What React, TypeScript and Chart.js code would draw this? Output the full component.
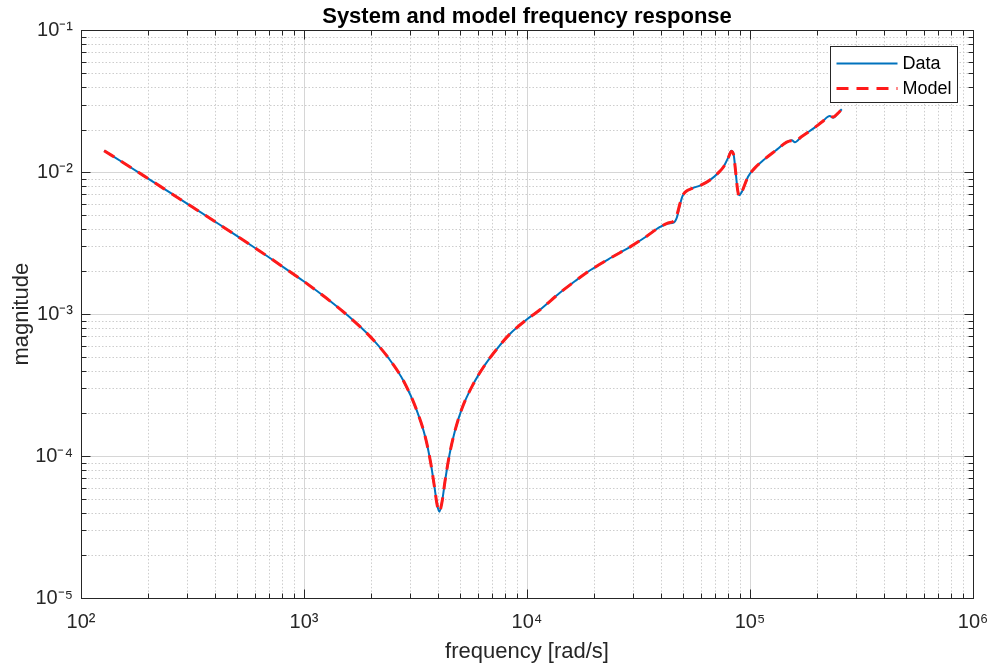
import React, { useEffect, useRef } from 'react';
import { Chart, registerables } from 'chart.js';

Chart.register(...registerables);

// ---- data ----
const frequency = [
  127, 160, 200, 250, 320, 400, 500, 630, 800, 1000, 1250, 1600, 2000, 2400, 2800, 3200,
  3500, 3700, 3850, 3950, 4044, 4150, 4300, 4500, 4750, 5100, 5700, 6500, 7400, 8400,
  10000, 11400, 14000, 16500, 19200, 24000, 29000, 34000, 39500, 43000, 45500, 47000,
  48500, 49800, 51500, 55000, 60000, 66000, 72000, 76000, 80000, 82500, 84500, 86000,
  88000, 89500, 92000, 98000, 105000, 115000, 130000, 146000, 154000, 159000, 170000,
  192000, 210000, 228000, 236000, 247000, 258000,
];

const dataMagnitude = [
  0.0142, 0.0113, 0.00903, 0.00721, 0.00562, 0.00448, 0.00356, 0.0028, 0.00217, 0.0017,
  0.00131, 0.000954, 0.000684, 0.000488, 0.000337, 0.000211, 0.000136, 0.0000895, 0.00006,
  0.0000457, 0.0000406, 0.0000467, 0.0000683, 0.000104, 0.00015, 0.000215, 0.000315, 0.000443,
  0.00058, 0.000728, 0.00092, 0.00107, 0.00141, 0.00172, 0.00204, 0.00252, 0.00298, 0.0035,
  0.00412, 0.00436, 0.00442, 0.0048, 0.0059, 0.0068, 0.0073, 0.0077, 0.0081, 0.0088, 0.0099,
  0.0109, 0.0128, 0.0142, 0.0133, 0.0105, 0.0075, 0.0069, 0.0073, 0.0093, 0.0107, 0.0122,
  0.0142, 0.0163, 0.0168, 0.0163, 0.0178, 0.0203, 0.0226, 0.0249, 0.0242, 0.0259, 0.0278,
];

const modelMagnitude = [
  0.0142, 0.0113, 0.00903, 0.00721, 0.00562, 0.00448, 0.00356, 0.0028, 0.00217, 0.0017,
  0.00131, 0.000954, 0.000684, 0.000488, 0.000337, 0.000211, 0.000136, 0.0000895, 0.00006,
  0.0000457, 0.0000406, 0.0000467, 0.0000683, 0.000104, 0.00015, 0.000215, 0.000315, 0.000443,
  0.00058, 0.000728, 0.00092, 0.00107, 0.00141, 0.00172, 0.00204, 0.00252, 0.00298, 0.0035,
  0.00412, 0.0044, 0.00455, 0.005, 0.006, 0.0068, 0.0073, 0.0077, 0.0081, 0.0088, 0.0099,
  0.0109, 0.0127, 0.014, 0.0132, 0.0105, 0.0075, 0.0068, 0.0073, 0.0093, 0.0107, 0.0122,
  0.0142, 0.0163, 0.0167, 0.0165, 0.0178, 0.0203, 0.0226, 0.0248, 0.0245, 0.0259, 0.0278,
];

const xTickValues = [100, 1000, 10000, 100000, 1000000];
const xTickLabels = ['10\u00B2', '10\u00B3', '10\u2074', '10\u2075', '10\u2076'];
const yTickValues = [0.00001, 0.0001, 0.001, 0.01, 0.1];
const yTickLabels = ['10\u207B\u2075', '10\u207B\u2074', '10\u207B\u00B3', '10\u207B\u00B2', '10\u207B\u00B9'];

const seriesNames = ['Data', 'Model'];
const titleText = 'System and model frequency response';
const xLabel = 'frequency [rad/s]';
const yLabel = 'magnitude';

const FONT = "'Liberation Sans', Arial, Helvetica, sans-serif";
const AXIS_COLOR = '#262626';
const BLUE = '#0072BD';
const RED = '#FF1A1A';
const DASH = [12, 8];

function decadeTicks(lo: number, hi: number): number[] {
  const out: number[] = [];
  const e0 = Math.round(Math.log10(lo));
  const e1 = Math.round(Math.log10(hi));
  for (let e = e0; e < e1; e++) {
    for (let k = 1; k <= 9; k++) out.push(k * Math.pow(10, e));
  }
  out.push(Math.pow(10, e1));
  return out;
}

function isDecade(v: number): boolean {
  const l = Math.log10(v);
  return Math.abs(l - Math.round(l)) < 1e-9;
}

function labelFor(v: number, values: number[], labels: string[]): string {
  for (let i = 0; i < values.length; i++) {
    if (Math.abs(Math.log10(v) - Math.log10(values[i])) < 1e-9) return labels[i];
  }
  return '';
}

const framePlugin = {
  id: 'matlabFrame',
  beforeDatasetsDraw(chart: any) {
    const { ctx, chartArea, scales } = chart;
    const { left, right, top, bottom } = chartArea;
    ctx.save();
    ctx.lineWidth = 1;
    const xs = decadeTicks(xTickValues[0], xTickValues[xTickValues.length - 1]);
    const ys = decadeTicks(yTickValues[0], yTickValues[yTickValues.length - 1]);
    // minor dotted grid
    ctx.strokeStyle = '#cdcdcd';
    ctx.setLineDash([1.5, 2]);
    for (const v of xs) {
      const p = Math.round(scales.x.getPixelForValue(v)) + 0.5;
      if (p <= left + 1 || p >= right - 1) continue;
      ctx.beginPath(); ctx.moveTo(p, top); ctx.lineTo(p, bottom); ctx.stroke();
    }
    for (const v of ys) {
      const p = Math.round(scales.y.getPixelForValue(v)) + 0.5;
      if (p <= top + 1 || p >= bottom - 1) continue;
      ctx.beginPath(); ctx.moveTo(left, p); ctx.lineTo(right, p); ctx.stroke();
    }
    // major solid grid
    ctx.setLineDash([]);
    ctx.strokeStyle = '#d6d6d6';
    for (const v of xs) {
      if (!isDecade(v)) continue;
      const p = Math.round(scales.x.getPixelForValue(v)) + 0.5;
      if (p <= left + 1 || p >= right - 1) continue;
      ctx.beginPath(); ctx.moveTo(p, top); ctx.lineTo(p, bottom); ctx.stroke();
    }
    for (const v of ys) {
      if (!isDecade(v)) continue;
      const p = Math.round(scales.y.getPixelForValue(v)) + 0.5;
      if (p <= top + 1 || p >= bottom - 1) continue;
      ctx.beginPath(); ctx.moveTo(left, p); ctx.lineTo(right, p); ctx.stroke();
    }
    ctx.restore();
  },
  afterDatasetsDraw(chart: any) {
    const { ctx, chartArea, scales } = chart;
    const { left, right, top, bottom } = chartArea;
    ctx.save();
    ctx.setLineDash([]);
    ctx.strokeStyle = AXIS_COLOR;
    ctx.lineWidth = 1;
    const L = Math.round(left) + 0.5;
    const R = Math.round(right) + 0.5;
    const T = Math.round(top) + 0.5;
    const B = Math.round(bottom) + 0.5;
    ctx.strokeRect(L, T, R - L, B - T);
    const xs = decadeTicks(xTickValues[0], xTickValues[xTickValues.length - 1]);
    const ys = decadeTicks(yTickValues[0], yTickValues[yTickValues.length - 1]);
    for (const v of xs) {
      const len = isDecade(v) ? 9 : 5;
      const p = Math.round(scales.x.getPixelForValue(v)) + 0.5;
      ctx.beginPath();
      ctx.moveTo(p, B); ctx.lineTo(p, B - len);
      ctx.moveTo(p, T); ctx.lineTo(p, T + len);
      ctx.stroke();
    }
    for (const v of ys) {
      const len = isDecade(v) ? 9 : 5;
      const p = Math.round(scales.y.getPixelForValue(v)) + 0.5;
      ctx.beginPath();
      ctx.moveTo(L, p); ctx.lineTo(L + len, p);
      ctx.moveTo(R, p); ctx.lineTo(R - len, p);
      ctx.stroke();
    }

    // legend box (top-right inside axes)
    const bw = 127, bh = 56;
    const bx = Math.round(right - 16 - bw) + 0.5;
    const by = Math.round(top + 16) + 0.5;
    ctx.fillStyle = '#ffffff';
    ctx.fillRect(bx, by, bw, bh);
    ctx.strokeStyle = AXIS_COLOR;
    ctx.lineWidth = 1;
    ctx.strokeRect(bx, by, bw, bh);
    const rows = [by + 17, by + 42];
    const colors = [BLUE, RED];
    const widths = [2, 3];
    for (let i = 0; i < seriesNames.length; i++) {
      ctx.beginPath();
      ctx.strokeStyle = colors[i];
      ctx.lineWidth = widths[i];
      ctx.setLineDash(i === 1 ? DASH : []);
      ctx.moveTo(bx + 6, rows[i]);
      ctx.lineTo(bx + 67, rows[i]);
      ctx.stroke();
      ctx.setLineDash([]);
      ctx.fillStyle = '#000000';
      ctx.font = `18px ${FONT}`;
      ctx.textAlign = 'left';
      ctx.textBaseline = 'middle';
      ctx.fillText(seriesNames[i], bx + 72, rows[i] + 1);
    }
    ctx.restore();
  },
};

export default function App() {
  const canvasRef = useRef<HTMLCanvasElement | null>(null);

  useEffect(() => {
    const canvas = canvasRef.current;
    if (!canvas) return;
    const xAll = decadeTicks(xTickValues[0], xTickValues[xTickValues.length - 1]);
    const yAll = decadeTicks(yTickValues[0], yTickValues[yTickValues.length - 1]);

    const chart = new Chart(canvas, {
      type: 'line',
      data: {
        datasets: [
          {
            label: seriesNames[0],
            data: frequency.map((f, i) => ({ x: f, y: dataMagnitude[i] })),
            borderColor: BLUE,
            borderWidth: 2,
            pointRadius: 0,
            fill: false,
            cubicInterpolationMode: 'monotone',
            order: 2,
          },
          {
            label: seriesNames[1],
            data: frequency.map((f, i) => ({ x: f, y: modelMagnitude[i] })),
            borderColor: RED,
            borderWidth: 3,
            borderDash: DASH,
            pointRadius: 0,
            fill: false,
            cubicInterpolationMode: 'monotone',
            order: 1,
          },
        ],
      },
      options: {
        animation: false,
        responsive: true,
        maintainAspectRatio: false,
        devicePixelRatio: 1,
        layout: { padding: { left: 0, right: 20, top: 0, bottom: 0 } },
        plugins: {
          legend: { display: false },
          tooltip: { enabled: false },
          title: {
            display: true,
            text: titleText,
            fullSize: false,
            color: '#000000',
            font: { family: FONT, size: 22, weight: 'bold', lineHeight: 1.2 },
            padding: { top: 4, bottom: 0 },
          },
        },
        scales: {
          x: {
            type: 'logarithmic',
            min: xTickValues[0],
            max: xTickValues[xTickValues.length - 1],
            afterBuildTicks: (scale: any) => {
              scale.ticks = xAll.map((v) => ({ value: v, major: isDecade(v) }));
            },
            afterFit: (scale: any) => {
              scale.height = 73;
              scale.paddingLeft = 0;
              scale.paddingRight = 0;
            },
            grid: { display: false, drawTicks: false },
            border: { display: false },
            ticks: {
              autoSkip: false,
              maxRotation: 0,
              minRotation: 0,
              padding: 12,
              color: AXIS_COLOR,
              font: { family: FONT, size: 20 },
              callback: (value: any) => labelFor(Number(value), xTickValues, xTickLabels),
            },
            title: {
              display: true,
              text: xLabel,
              color: AXIS_COLOR,
              font: { family: FONT, size: 22, lineHeight: 1.2 },
              padding: { top: 0, bottom: 6 },
            },
          },
          y: {
            type: 'logarithmic',
            min: yTickValues[0],
            max: yTickValues[yTickValues.length - 1],
            afterBuildTicks: (scale: any) => {
              scale.ticks = yAll.map((v) => ({ value: v, major: isDecade(v) }));
            },
            afterFit: (scale: any) => {
              scale.width = 81;
              scale.paddingTop = 0;
              scale.paddingBottom = 0;
            },
            grid: { display: false, drawTicks: false },
            border: { display: false },
            ticks: {
              autoSkip: false,
              padding: 8,
              color: AXIS_COLOR,
              font: { family: FONT, size: 20 },
              callback: (value: any) => labelFor(Number(value), yTickValues, yTickLabels),
            },
            title: {
              display: true,
              text: yLabel,
              color: AXIS_COLOR,
              font: { family: FONT, size: 22, lineHeight: 1.2 },
              padding: { top: 9, bottom: 0 },
            },
          },
        },
      } as any,
      plugins: [framePlugin],
    });

    return () => {
      chart.destroy();
    };
  }, []);

  return (
    <div style={{ position: 'absolute', left: 0, top: 0, width: 993, height: 671, background: '#ffffff' }}>
      <canvas ref={canvasRef} />
    </div>
  );
}
